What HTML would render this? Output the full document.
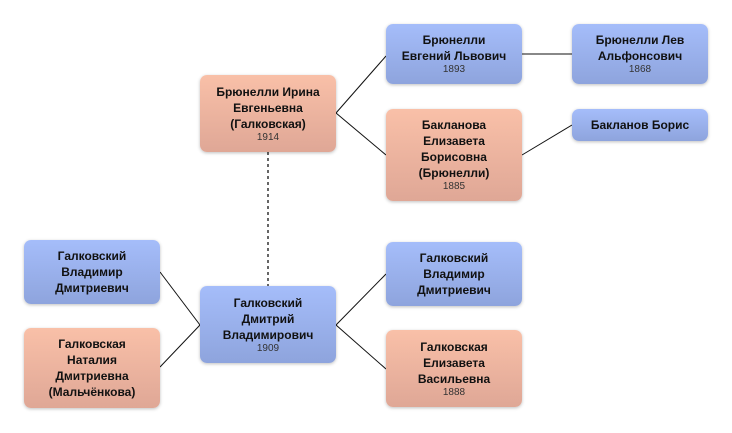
<!DOCTYPE html>
<html><head><meta charset="utf-8"><style>
body{margin:0;width:732px;height:433px;background:#fff;position:relative;overflow:hidden;font-family:"Liberation Sans","DejaVu Sans",sans-serif;}
.n{position:absolute;width:136px;border-radius:7px;display:flex;flex-direction:column;align-items:center;justify-content:center;text-align:center;box-shadow:0 1px 3px rgba(0,0,0,0.25);box-sizing:border-box;}
.m{background:linear-gradient(#a5bdfa,#8ea4dd);}
.f{background:linear-gradient(#f9c0a8,#dfa796);}
.t{font-weight:bold;font-size:12px;line-height:16px;color:#111;}
.y{font-size:10px;line-height:12px;color:#333;}
svg{position:absolute;left:0;top:0}
</style></head><body>
<svg width="732" height="433">
<g stroke="#111" stroke-width="1" fill="none">
<line x1="336" y1="113" x2="386" y2="56"/>
<line x1="336" y1="113" x2="386" y2="155"/>
<line x1="522" y1="54" x2="572" y2="54"/>
<line x1="522" y1="155" x2="572" y2="125"/>
<line x1="160" y1="272" x2="200" y2="325"/>
<line x1="160" y1="367" x2="200" y2="325"/>
<line x1="336" y1="325" x2="386" y2="274"/>
<line x1="336" y1="325" x2="386" y2="369"/>
<line x1="268" y1="152" x2="268" y2="286" stroke="#666" stroke-width="2" stroke-dasharray="3,3"/>
</g></svg>
<div class="n f" style="left:200px;top:75px;height:77px"><div class="t">Брюнелли Ирина<br>Евгеньевна<br>(Галковская)</div><div class="y">1914</div></div>
<div class="n m" style="left:386px;top:24px;height:60px"><div class="t">Брюнелли<br>Евгений Львович</div><div class="y">1893</div></div>
<div class="n f" style="left:386px;top:109px;height:92px"><div class="t">Бакланова<br>Елизавета<br>Борисовна<br>(Брюнелли)</div><div class="y">1885</div></div>
<div class="n m" style="left:572px;top:24px;height:60px"><div class="t">Брюнелли Лев<br>Альфонсович</div><div class="y">1868</div></div>
<div class="n m" style="left:572px;top:109px;height:32px"><div class="t">Бакланов Борис</div></div>
<div class="n m" style="left:200px;top:286px;height:77px"><div class="t">Галковский<br>Дмитрий<br>Владимирович</div><div class="y">1909</div></div>
<div class="n m" style="left:24px;top:240px;height:64px"><div class="t">Галковский<br>Владимир<br>Дмитриевич</div></div>
<div class="n f" style="left:24px;top:328px;height:80px"><div class="t">Галковская<br>Наталия<br>Дмитриевна<br>(Мальчёнкова)</div></div>
<div class="n m" style="left:386px;top:242px;height:64px"><div class="t">Галковский<br>Владимир<br>Дмитриевич</div></div>
<div class="n f" style="left:386px;top:330px;height:77px"><div class="t">Галковская<br>Елизавета<br>Васильевна</div><div class="y">1888</div></div>
</body></html>
